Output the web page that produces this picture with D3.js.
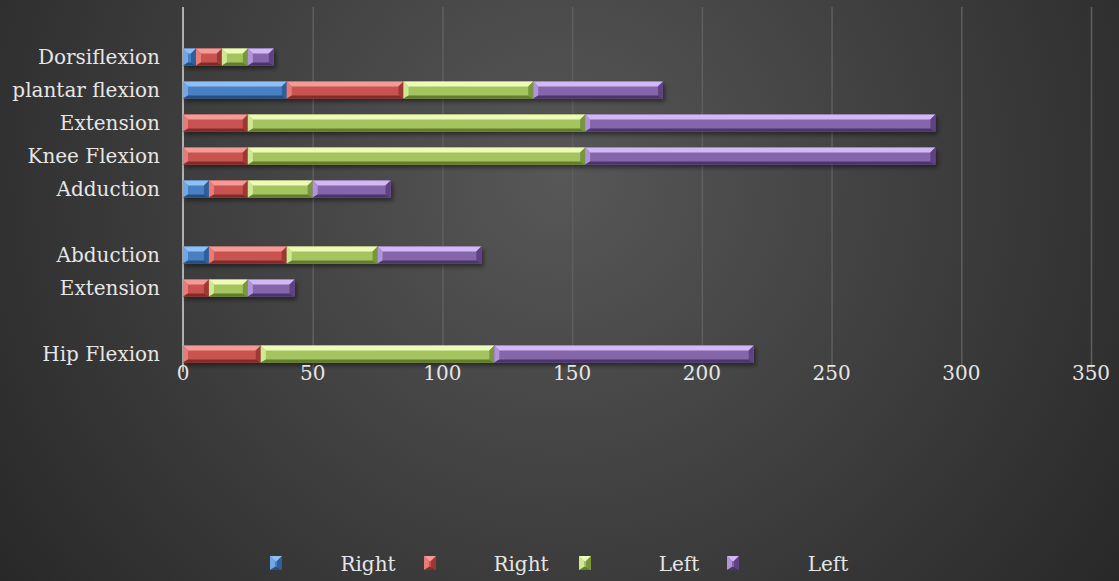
<!DOCTYPE html>
<html><head><meta charset="utf-8">
<script src="https://cdnjs.cloudflare.com/ajax/libs/d3/7.8.5/d3.min.js"></script>
<style>html,body{margin:0;padding:0;background:#333;overflow:hidden}</style>
</head><body>
<svg id="c" width="1119" height="581"></svg>
<script>
// Data (top to bottom; empty strings are blank rows)
const categories = ["Dorsiflexion","plantar flexion","Extension","Knee Flexion","Adduction","","Abduction","Extension","","Hip Flexion"];
const rightA = [5, 40, 0, 0, 10, 0, 10, 0, 0, 0];
const rightB = [10, 45, 25, 25, 15, 0, 30, 10, 0, 30];
const leftA  = [10, 50, 130, 130, 25, 0, 35, 15, 0, 90];
const leftB  = [10, 50, 135, 135, 30, 0, 40, 18, 0, 100];
const seriesNames = ["Right","Right","Left","Left"];
const xTicks = [0,50,100,150,200,250,300,350];

const palettes = [
  {top:"#8ec0f5", left:"#72a6e4", main:"#4a80c4", right:"#2f5f9a", bottom:"#26507f"},
  {top:"#f49a97", left:"#e67c78", main:"#c9524f", right:"#9e3835", bottom:"#832c2a"},
  {top:"#eefab8", left:"#cfe894", main:"#a3c45e", right:"#78963c", bottom:"#627d2f"},
  {top:"#d3b8f6", left:"#b093d8", main:"#8566ab", right:"#5e4384", bottom:"#4b346d"}
];

const svg = d3.select("#c");
const W = 1119, H = 581;
const defs = svg.append("defs");
const bg = defs.append("radialGradient").attr("id","bg").attr("gradientUnits","userSpaceOnUse")
  .attr("cx",560).attr("cy",180).attr("r",720);
bg.append("stop").attr("offset","0%").attr("stop-color","#575757");
bg.append("stop").attr("offset","100%").attr("stop-color","#262626");
const f = defs.append("filter").attr("id","sh").attr("x","-10%").attr("y","-50%").attr("width","130%").attr("height","220%");
f.append("feDropShadow").attr("dx",2).attr("dy",3).attr("stdDeviation",2).attr("flood-color","#000").attr("flood-opacity",0.45);

svg.append("rect").attr("width",W).attr("height",H).attr("fill","url(#bg)");

const x = d3.scaleLinear().domain([0,350]).range([183,1091]);
const y = d3.scaleBand().domain(d3.range(categories.length)).range([40.5,370.5]).padding(0);

const font = "'DejaVu Serif', 'Liberation Serif', serif";
const fs = 20;

// gridlines
svg.append("g").selectAll("line").data(xTicks.slice(1)).join("line")
  .attr("x1",d=>x(d)+0.5).attr("x2",d=>x(d)+0.5).attr("y1",7).attr("y2",370)
  .attr("stroke","#5f5f5f").attr("stroke-width",1.5);

// axis line
svg.append("line").attr("x1",x(0)).attr("x2",x(0)).attr("y1",7).attr("y2",372)
  .attr("stroke","#b0b0b0").attr("stroke-width",2);

function bevel(g, x0, y0, w, h, p, b) {
  const x1 = x0 + w, y1 = y0 + h;
  const bt = Math.min(b, w/2), bb = Math.min(b*0.6, h/2);
  const grp = g.append("g");
  grp.append("rect").attr("x",x0).attr("y",y0).attr("width",w).attr("height",h).attr("fill",p.main);
  const poly = (pts, c) => grp.append("polygon").attr("points", pts.map(q=>q.join(",")).join(" ")).attr("fill", c);
  poly([[x0,y0],[x1,y0],[x1-bt,y0+b],[x0+bt,y0+b]], p.top);
  poly([[x0,y0],[x0+bt,y0+b],[x0+bt,y1-bb],[x0,y1]], p.left);
  poly([[x1,y0],[x1,y1],[x1-bt,y1-bb],[x1-bt,y0+b]], p.right);
  poly([[x0,y1],[x0+bt,y1-bb],[x1-bt,y1-bb],[x1,y1]], p.bottom);
  return grp;
}

const series = [rightA, rightB, leftA, leftB];
const barH = 17;
const barsG = svg.append("g");
categories.forEach((c, i) => {
  let acc = 0;
  const rowG = barsG.append("g").attr("filter","url(#sh)");
  series.forEach((s, k) => {
    const v = s[i];
    if (v > 0) {
      const yc = y(i) + y.bandwidth()/2;
      bevel(rowG, x(acc), yc - barH/2, x(acc+v) - x(acc), barH, palettes[k], 5);
    }
    acc += v;
  });
});

// category labels
svg.append("g").selectAll("text").data(categories).join("text")
  .attr("x",160).attr("y",(d,i)=>y(i)+y.bandwidth()/2).attr("dy","0.35em")
  .attr("text-anchor","end").attr("fill","#e6e6e6").attr("font-family",font).attr("font-size",fs)
  .text(d=>d);

// x tick labels
svg.append("g").selectAll("text").data(xTicks).join("text")
  .attr("x",d=>x(d)).attr("y",380).attr("text-anchor","middle")
  .attr("fill","#e6e6e6").attr("font-family",font).attr("font-size",fs).text(d=>d);

// legend
const legX = [276, 430, 585, 733];
const legTX = [368, 521, 679, 828];
const lg = svg.append("g");
seriesNames.forEach((n,k)=>{
  bevel(lg, legX[k]-6, 556, 12, 14, palettes[k], 5);
  lg.append("text").attr("x",legTX[k]).attr("y",571).attr("text-anchor","middle")
    .attr("fill","#e6e6e6").attr("font-family",font).attr("font-size",fs).text(n);
});
</script>
</body></html>
